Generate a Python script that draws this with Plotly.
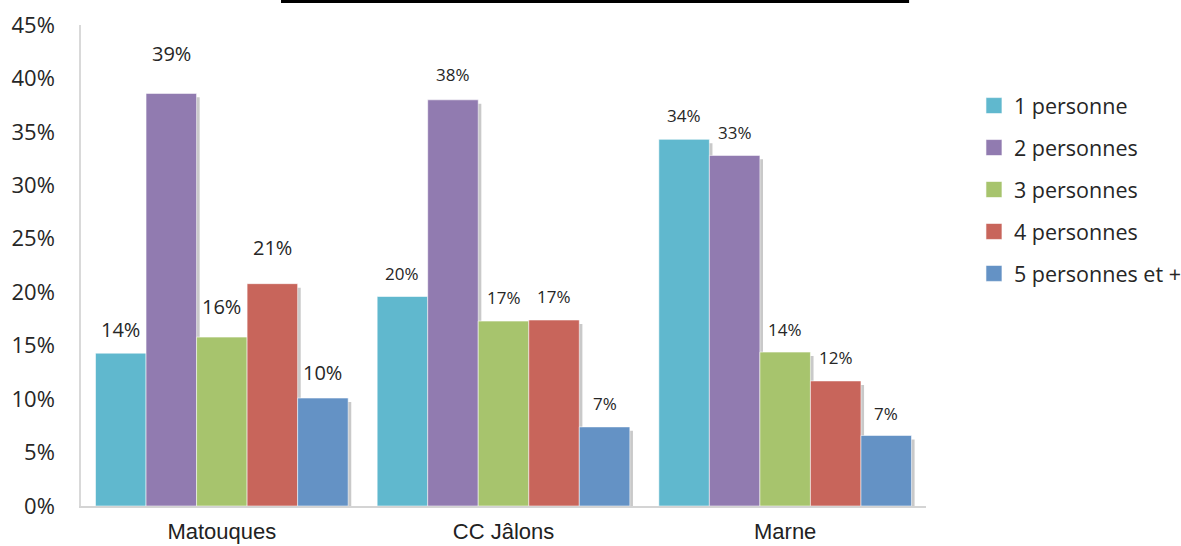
import plotly.graph_objects as go

# Household size distribution by area
categories = ["Matouques", "CC Jâlons", "Marne"]
series_names = ["1 personne", "2 personnes", "3 personnes", "4 personnes", "5 personnes et +"]
values = {
    "1 personne":       [0.143, 0.196, 0.343],
    "2 personnes":      [0.386, 0.380, 0.328],
    "3 personnes":      [0.158, 0.173, 0.144],
    "4 personnes":      [0.208, 0.174, 0.117],
    "5 personnes et +": [0.101, 0.074, 0.066],
}
y_ticks = [0, 0.05, 0.10, 0.15, 0.20, 0.25, 0.30, 0.35, 0.40, 0.45]

# styling
colors = ["#60B8CE", "#917BB0", "#A7C46D", "#C8655B", "#6492C5"]
shadow_color = "#C9C9C9"
group_span = 0.897            # fraction of a category occupied by the bar group
bar_w = group_span / len(series_names)
shadow_dx = 0.011             # shadow shift, category units
shadow_dy = 0.0037            # shadow drop, data units
# label lift above bar top (px); first area uses bigger, higher labels
label_lift = {
    "Matouques": [24, 40, 31, 36, 26],
    "CC Jâlons": [23, 25, 24, 24, 23],
    "Marne":     [24, 23, 23, 23, 22],
}
label_size = {"Matouques": 20, "CC Jâlons": 17, "Marne": 17}

fig = go.Figure()
xi = list(range(len(categories)))

# shadows first, so every bar sits on top
for i, name in enumerate(series_names):
    off = -group_span / 2 + i * bar_w
    fig.add_trace(go.Bar(
        x=xi, y=[v - shadow_dy for v in values[name]], base=0,
        width=bar_w, offset=off + shadow_dx,
        marker=dict(color=shadow_color, line=dict(width=0)),
        showlegend=False, hoverinfo="skip",
    ))

for i, name in enumerate(series_names):
    off = -group_span / 2 + i * bar_w
    fig.add_trace(go.Bar(
        x=xi, y=values[name], base=0,
        width=bar_w, offset=off, name=name,
        marker=dict(color=colors[i], line=dict(color="rgba(255,255,255,0.55)", width=1)),
        showlegend=False,
    ))
    # legend swatches
    fig.add_trace(go.Scatter(
        x=[None], y=[None], mode="markers", name=name, legendgroup=name,
        marker=dict(symbol="square", size=16, color=colors[i],
                    line=dict(color="rgba(255,255,255,0.6)", width=1)),
    ))
    for j, cat in enumerate(categories):
        v = values[name][j]
        fig.add_annotation(
            x=j + off + bar_w / 2, y=v, xref="x", yref="y",
            text=f"{round(v * 100):.0f}%", showarrow=False,
            yanchor="middle", yshift=label_lift[cat][i],
            font=dict(family="Open Sans", size=label_size[cat], color="#262626"),
        )

# title underline at the top edge
fig.add_shape(type="line", xref="paper", yref="paper",
              x0=0.2367, x1=0.98, y0=1.049, y1=1.049,
              line=dict(color="black", width=3))

fig.update_layout(
    width=1181, height=546,
    margin=dict(l=81, r=255, t=25, b=40),
    plot_bgcolor="white", paper_bgcolor="white",
    barmode="overlay",
    showlegend=True,
    legend=dict(
        xref="container", x=0.8247, xanchor="left",
        y=0.875, yanchor="top",
        traceorder="grouped", tracegroupgap=11,
        font=dict(family="Open Sans", size=21.5, color="#262626"),
        bgcolor="rgba(0,0,0,0)",
    ),
    xaxis=dict(
        range=[-0.5, len(categories) - 0.5],
        tickmode="array", tickvals=xi, ticktext=categories,
        showline=True, linecolor="#D4D4D4", linewidth=1.5,
        showgrid=False, zeroline=False, ticks="",
        tickfont=dict(family="Liberation Sans", size=22, color="#222222"),
        ticklabelstandoff=5, automargin=False,
    ),
    yaxis=dict(
        range=[0, 0.45], tickvals=y_ticks, tickformat=".0%",
        showline=True, linecolor="#D9D9D9", linewidth=1.5,
        showgrid=False, zeroline=False, ticks="",
        tickfont=dict(family="Open Sans", size=22, color="#262626"),
        ticklabelstandoff=20, automargin=False,
    ),
)

fig.write_html("out.html")
